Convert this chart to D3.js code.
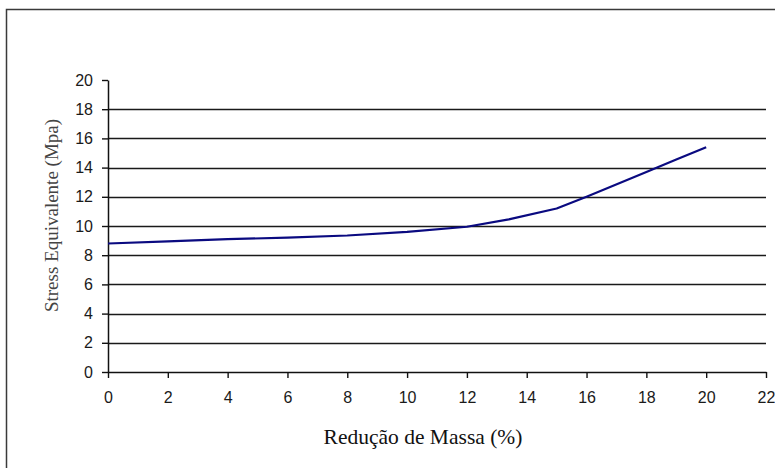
<!DOCTYPE html>
<html>
<head>
<meta charset="utf-8">
<script src="https://cdn.jsdelivr.net/npm/d3@7"></script>
<style>
  html, body { margin: 0; padding: 0; background: #fff; }
  svg { display: block; }
</style>
</head>
<body>
<svg id="chart" width="775" height="468"></svg>
<script>
// ---- data ----
const massReduction = [0, 2, 4, 6, 8, 10, 12, 13.4, 15, 16, 18, 19, 20];
const stressValues  = [8.8, 8.95, 9.1, 9.2, 9.35, 9.6, 9.95, 10.45, 11.2, 12.0, 13.7, 14.55, 15.4];
const xTicks = [0, 2, 4, 6, 8, 10, 12, 14, 16, 18, 20, 22];
const yTicks = [0, 2, 4, 6, 8, 10, 12, 14, 16, 18, 20];
const xTitle = "Redução de Massa (%)";
const yTitle = "Stress Equivalente (Mpa)";

const svg = d3.select("#chart");

// outer frame (extends beyond window on right/bottom)
svg.append("rect")
  .attr("x", 6.5).attr("y", 9.5)
  .attr("width", 800).attr("height", 500)
  .attr("fill", "none").attr("stroke", "#3a3a3a").attr("stroke-width", 1.5);

const x = d3.scaleLinear().domain([0, 22]).range([108, 766]);
const y = d3.scaleLinear().domain([0, 20]).range([372, 80]);

// gridlines
svg.append("g").selectAll("line")
  .data(yTicks.filter(t => t > 0 && t < 20))
  .join("line")
  .attr("x1", x(0)).attr("x2", x(22))
  .attr("y1", d => Math.round(y(d)) + 0.5).attr("y2", d => Math.round(y(d)) + 0.5)
  .attr("stroke", "#1a1a1a").attr("stroke-width", 1.4);

// y axis
const yAxis = svg.append("g")
  .attr("transform", `translate(${x(0)},0)`)
  .call(d3.axisLeft(y).tickValues(yTicks).tickSize(6).tickPadding(9).tickSizeOuter(0));
// x axis
const xAxis = svg.append("g")
  .attr("transform", `translate(0,${y(0)})`)
  .call(d3.axisBottom(x).tickValues(xTicks).tickSize(6).tickPadding(14).tickSizeOuter(0));

[yAxis, xAxis].forEach(g => {
  g.select(".domain").attr("stroke", "#111").attr("stroke-width", 1.5);
  g.selectAll(".tick line").attr("stroke", "#111").attr("stroke-width", 1.4);
  g.selectAll(".tick text")
    .attr("fill", "#1a1a1a")
    .style("font-family", "'Liberation Sans', Arial, sans-serif")
    .style("font-size", "16px");
});

// data line
const line = d3.line()
  .x((d, i) => x(massReduction[i]))
  .y(d => y(d));
svg.append("path")
  .datum(stressValues)
  .attr("d", line)
  .attr("fill", "none")
  .attr("stroke", "#0a0a80")
  .attr("stroke-width", 2.2)
  .attr("stroke-linejoin", "round");

// axis titles
svg.append("text")
  .attr("x", 423).attr("y", 444)
  .attr("text-anchor", "middle")
  .attr("fill", "#111")
  .style("font-family", "'Liberation Serif', 'Times New Roman', serif")
  .style("font-size", "21.5px")
  .text(xTitle);

svg.append("text")
  .attr("transform", "translate(58,215.5) rotate(-90)")
  .attr("text-anchor", "middle")
  .attr("fill", "#444")
  .style("font-family", "'Liberation Serif', 'Times New Roman', serif")
  .style("font-size", "19px")
  .text(yTitle);
</script>
</body>
</html>
